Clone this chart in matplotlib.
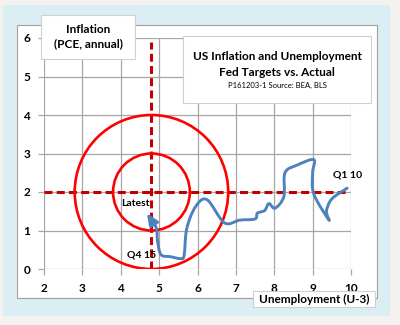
import matplotlib
matplotlib.use('Agg')
import numpy as np
import matplotlib.pyplot as plt
from matplotlib.path import Path
from matplotlib.patches import Rectangle, Circle, FancyArrowPatch

# quarterly path, Q1 2010 -> Q3 2016
quarters = ['Q1 10', 'Q2 10', 'Q3 10', 'Q4 10', 'Q1 11', 'Q2 11', 'Q3 11', 'Q4 11',
            'Q1 12', 'Q2 12', 'Q3 12', 'Q4 12', 'Q1 13', 'Q2 13', 'Q3 13', 'Q4 13',
            'Q1 14', 'Q2 14', 'Q3 14', 'Q4 14', 'Q1 15', 'Q2 15', 'Q3 15', 'Q4 15',
            'Q1 16', 'Q2 16', 'Q3 16']
unemployment = [9.9, 9.5, 9.36, 9.42, 9.03, 9.0, 9.03, 8.6,
                8.28, 8.25, 8.02, 7.86, 7.75, 7.56, 7.5, 7.1,
                6.7, 6.25, 5.95, 5.72, 5.65, 5.55, 5.3, 5.05,
                4.96, 4.92, 4.68]
inflation = [2.1, 1.82, 1.5, 1.28, 1.95, 2.5, 2.84, 2.7,
             2.5, 1.88, 1.58, 1.7, 1.52, 1.45, 1.3, 1.27,
             1.2, 1.8, 1.62, 1.05, 0.35, 0.27, 0.32, 0.37,
             0.72, 1.08, 1.45]

# Fed targets
target_u = 4.8
target_pce = 2.0
rings = [1, 2]

xticks = [2, 3, 4, 5, 6, 7, 8, 9, 10]
yticks = [0, 1, 2, 3, 4, 5, 6]

FONT = 'Lato'
BLUE = '#4f81bd'
DARKRED = '#c00000'
RED = '#ff0000'
GRID = '#a6a6a6'


def smooth_path(xs, ys):
    # catmull-rom through the points, as cubic bezier segments
    pts = np.column_stack([xs, ys])
    n = len(pts)
    verts = [pts[0]]
    codes = [Path.MOVETO]
    for i in range(n - 1):
        p0 = pts[max(i - 1, 0)]
        p1 = pts[i]
        p2 = pts[i + 1]
        p3 = pts[min(i + 2, n - 1)]
        verts += [p1 + (p2 - p0) / 6, p2 - (p3 - p1) / 6, p2]
        codes += [Path.CURVE4] * 3
    return Path(verts, codes)


W, H = 400, 325
fig = plt.figure(figsize=(W / 100, H / 100), dpi=100)
fig.patch.set_facecolor('#f3f2ee')

def px_rect(x0, y0, x1, y1, **kw):
    r = Rectangle((x0 / W, 1 - y1 / H), (x1 - x0) / W, (y1 - y0) / H,
                  transform=fig.transFigure, **kw)
    fig.patches.append(r)

px_rect(3, 5, 390, 316, facecolor='#dbeef3', edgecolor='none', zorder=0)
px_rect(17, 25, 377, 298, facecolor='white', edgecolor='#a0a0a0', lw=0.8, zorder=1)

ax = fig.add_axes([44 / W, 1 - 269 / H, 307 / W, 231 / H])
ax.set_zorder(2)
ax.set_facecolor('none')
ax.set_xlim(2, 10)
ax.set_ylim(0, 6)
ax.set_xticks(xticks)
ax.set_yticks(yticks)
ax.grid(True, color=GRID, lw=0.9)
ax.set_axisbelow(True)
for s in ax.spines.values():
    s.set_visible(False)
ax.tick_params(length=4, width=0.9, color=GRID, pad=6, labelsize=8.5)
for lab in ax.get_xticklabels() + ax.get_yticklabels():
    lab.set_fontweight('bold')
    lab.set_family(FONT)

# target lines and rings
ax.plot([2, 9.85], [target_pce, target_pce], color=DARKRED, lw=2.2,
        dashes=(2.6, 1.4), zorder=3, solid_capstyle='butt')
ax.plot([target_u, target_u], [0, 5.9], color=DARKRED, lw=2.2,
        dashes=(2.6, 1.4), zorder=3)
for r in rings:
    ax.add_patch(Circle((target_u, target_pce), r, fill=False, edgecolor=RED,
                        lw=1.9, zorder=4))

# actual path with arrow at latest quarter
path = smooth_path(unemployment, inflation)
ax.add_patch(FancyArrowPatch(path=path, arrowstyle='-|>,head_length=0.7,head_width=0.3',
                             mutation_scale=10, color=BLUE, lw=2.1, zorder=5,
                             joinstyle='round', capstyle='round'))

ax.text(unemployment[0], inflation[0] + 0.22, quarters[0], ha='center', va='bottom',
        fontsize=7.5, fontweight='bold', family=FONT, zorder=6)
ax.text(unemployment[23] - 0.12, inflation[23], quarters[23], ha='right', va='center',
        fontsize=7.5, fontweight='bold', family=FONT, zorder=6)
ax.text(4.38, 1.71, 'Latest', ha='center', va='center',
        fontsize=7.5, fontweight='bold', family=FONT, zorder=6)

# label boxes
px_rect(41, 15, 135, 59, facecolor='white', edgecolor='#d0d0d0', lw=0.8, zorder=10)
fig.text(88 / W, 1 - 37 / H, 'Inflation\n(PCE, annual)', ha='center', va='center',
         fontsize=8.5, fontweight='bold', family=FONT, linespacing=1.35, zorder=11)

px_rect(183, 36, 371, 103, facecolor='white', edgecolor='#d0d0d0', lw=0.8, zorder=10)
fig.text(277 / W, 1 - 57 / H, 'US Inflation and Unemployment', ha='center', va='center',
         fontsize=8.5, fontweight='bold', family=FONT, zorder=11)
fig.text(277 / W, 1 - 72 / H, 'Fed Targets vs. Actual', ha='center', va='center',
         fontsize=8.5, fontweight='bold', family=FONT, zorder=11)
fig.text(277 / W, 1 - 85 / H, 'P161203-1 Source: BEA, BLS', ha='center', va='center',
         fontsize=5.5, family=FONT, zorder=11)

px_rect(253, 291, 375, 307, facecolor='white', edgecolor='#d0d0d0', lw=0.8, zorder=10)
fig.text(314 / W, 1 - 299.5 / H, 'Unemployment (U-3)', ha='center', va='center',
         fontsize=8.5, fontweight='bold', family=FONT, zorder=11)

fig.savefig('out.png', dpi=100, facecolor=fig.get_facecolor())
